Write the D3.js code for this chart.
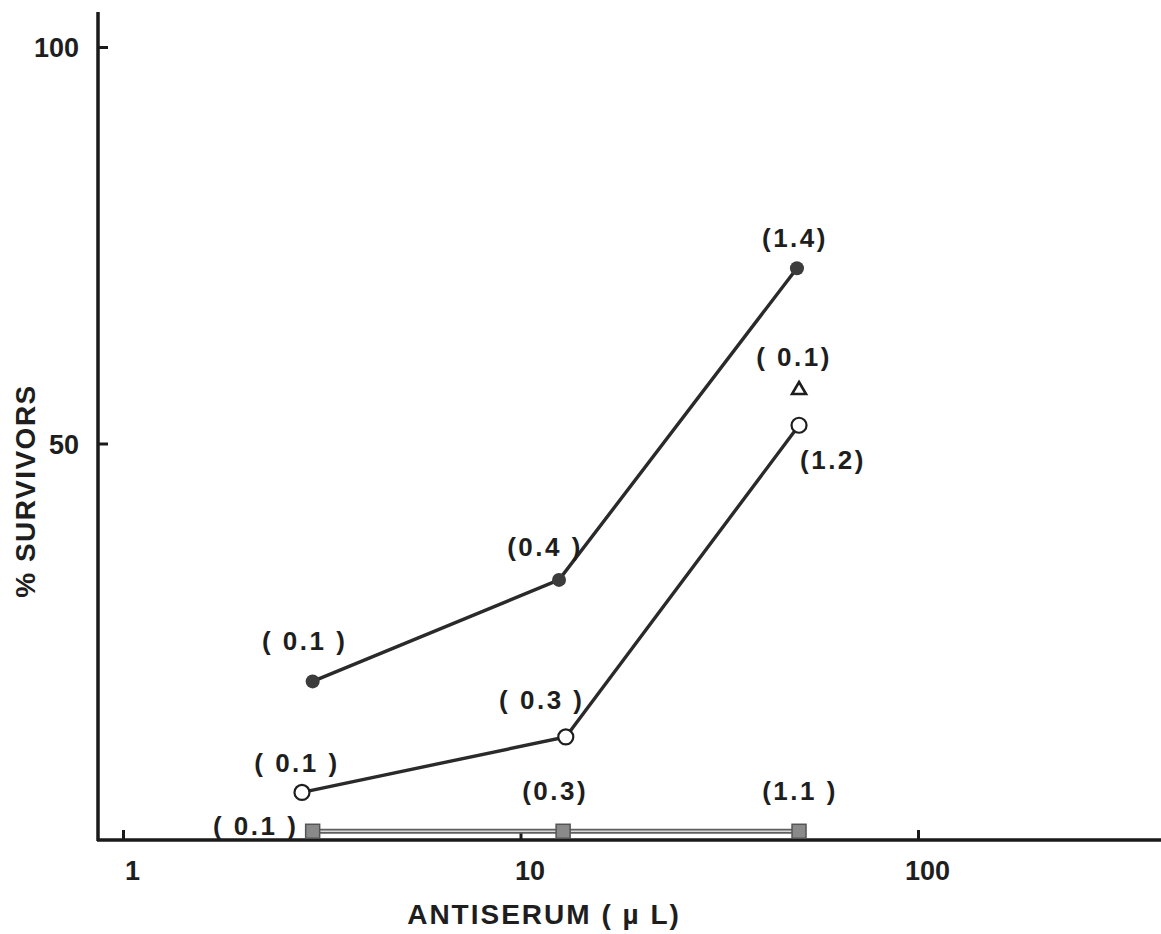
<!DOCTYPE html>
<html><head><meta charset="utf-8">
<script src="https://cdn.jsdelivr.net/npm/d3@7"></script>
<style>body{margin:0;background:#fff}svg{display:block}text{font-family:"Liberation Sans",Arial,sans-serif;fill:#1e1e1e}</style>
</head><body><svg id="c" width="1161" height="934"></svg>
<script>
// ---- data ----
const xTicks = [1, 10, 100];
const yTicks = [50, 100];
const filledX = [3.0, 12.5, 49.6];
const filledY = [20.0, 32.8, 72.1];
const filledLabels = ["( 0.1 )", "(0.4 )", "(1.4)"];
const openX = [2.82, 13.0, 50.2];
const openY = [6.0, 13.0, 52.3];
const openLabels = ["( 0.1 )", "( 0.3 )", "(1.2)"];
const squareX = [3.0, 12.8, 50.2];
const squareY = [1.1, 1.1, 1.1];
const squareLabels = ["( 0.1 )", "(0.3)", "(1.1 )"];
const triangleX = [50.2];
const triangleY = [57.0];
const triangleLabels = ["( 0.1)"];
const xTitle = "ANTISERUM ( \u00b5 L)";
const yTitle = "% SURVIVORS";

// ---- label offsets (style, not data) ----
const filledOff = [[-8, -41], [-14, -33], [-2, -31]];
const openOff = [[-5, -30], [-24, -37], [34, 34]];
const squareOff = [[-57, -6], [-8, -41], [1, -41]];
const triOff = [[-5, -31]];

const svg = d3.select("#c");
const x = d3.scaleLog().domain([1, 100]).range([123, 918]);
const y = d3.scaleLinear().domain([0, 100]).range([840, 47]);
const axisX0 = 98;

// axes lines
svg.append("line").attr("x1", axisX0).attr("x2", axisX0).attr("y1", 12).attr("y2", 841)
  .attr("stroke", "#1a1a1a").attr("stroke-width", 3.5);
svg.append("line").attr("x1", axisX0 - 1).attr("x2", 1161).attr("y1", 840).attr("y2", 840)
  .attr("stroke", "#1a1a1a").attr("stroke-width", 3.5);

// y ticks (inward)
const yAxis = d3.axisRight(y).tickValues(yTicks).tickSize(10).tickFormat(d3.format("d"));
const gy = svg.append("g").attr("transform", `translate(${axisX0},0)`).call(yAxis);
gy.select(".domain").remove();
gy.selectAll(".tick line").attr("stroke", "#1a1a1a").attr("stroke-width", 3);
gy.selectAll(".tick text").attr("x", -19).attr("text-anchor", "end").attr("dy", "0.36em")
  .style("font-size", "27px").style("font-weight", "bold");

// x ticks (upward)
const xAxis = d3.axisTop(x).tickValues(xTicks).tickSize(10).tickFormat(d3.format("d"));
const gx = svg.append("g").attr("transform", "translate(0,840)").call(xAxis);
gx.select(".domain").remove();
gx.selectAll(".tick line").attr("stroke", "#1a1a1a").attr("stroke-width", 3);
gx.selectAll(".tick text").attr("y", 30).attr("dx", 9).attr("dy", "0.36em")
  .style("font-size", "27px").style("font-weight", "bold");

// titles
svg.append("text").attr("x", 544).attr("y", 924).attr("text-anchor", "middle")
  .style("font-size", "28px").style("letter-spacing", "2px").style("font-weight", "bold").text(xTitle);
svg.append("text").attr("transform", "translate(35,491) rotate(-90)").attr("text-anchor", "middle")
  .style("font-size", "28px").style("letter-spacing", "1.5px").style("font-weight", "bold").text(yTitle);

const line = d3.line().x(d => x(d[0])).y(d => y(d[1]));
const zip = (a, b) => a.map((v, i) => [v, b[i]]);

// square series (double gray line)
const sq = zip(squareX, squareY);
svg.append("path").attr("d", line(sq)).attr("fill", "none").attr("stroke", "#5f5f5f").attr("stroke-width", 5);
svg.append("path").attr("d", line(sq)).attr("fill", "none").attr("stroke", "#d8d8d8").attr("stroke-width", 1.5);
svg.selectAll(".sq").data(sq).enter().append("rect")
  .attr("x", d => x(d[0]) - 7).attr("y", d => y(d[1]) - 7).attr("width", 14).attr("height", 14)
  .attr("fill", "#8a8a8a").attr("stroke", "#555").attr("stroke-width", 1.5);

// filled series
const fd = zip(filledX, filledY);
svg.append("path").attr("d", line(fd)).attr("fill", "none").attr("stroke", "#2a2a2a").attr("stroke-width", 3.4);
svg.selectAll(".fc").data(fd).enter().append("circle")
  .attr("cx", d => x(d[0])).attr("cy", d => y(d[1])).attr("r", 7).attr("fill", "#3c3c3c");

// open series
const od = zip(openX, openY);
svg.append("path").attr("d", line(od)).attr("fill", "none").attr("stroke", "#2a2a2a").attr("stroke-width", 3.4);
svg.selectAll(".oc").data(od).enter().append("circle")
  .attr("cx", d => x(d[0])).attr("cy", d => y(d[1])).attr("r", 7.5)
  .attr("fill", "#fff").attr("stroke", "#1e1e1e").attr("stroke-width", 2.2);

// triangle
const td = zip(triangleX, triangleY);
svg.selectAll(".tr").data(td).enter().append("path")
  .attr("transform", d => `translate(${x(d[0])},${y(d[1])})`)
  .attr("d", "M0,-6 L7,6 L-7,6 Z").attr("fill", "none").attr("stroke", "#1e1e1e").attr("stroke-width", 2.6);

// point labels
function labels(pts, txt, off) {
  svg.selectAll(null).data(pts).enter().append("text")
    .attr("x", (d, i) => x(d[0]) + off[i][0]).attr("y", (d, i) => y(d[1]) + off[i][1])
    .attr("text-anchor", "middle").attr("dy", "0.36em")
    .style("font-size", "26px").style("font-weight", "bold").style("letter-spacing", "2.5px")
    .text((d, i) => txt[i]);
}
labels(fd, filledLabels, filledOff);
labels(od, openLabels, openOff);
labels(sq, squareLabels, squareOff);
labels(td, triangleLabels, triOff);
</script></body></html>
